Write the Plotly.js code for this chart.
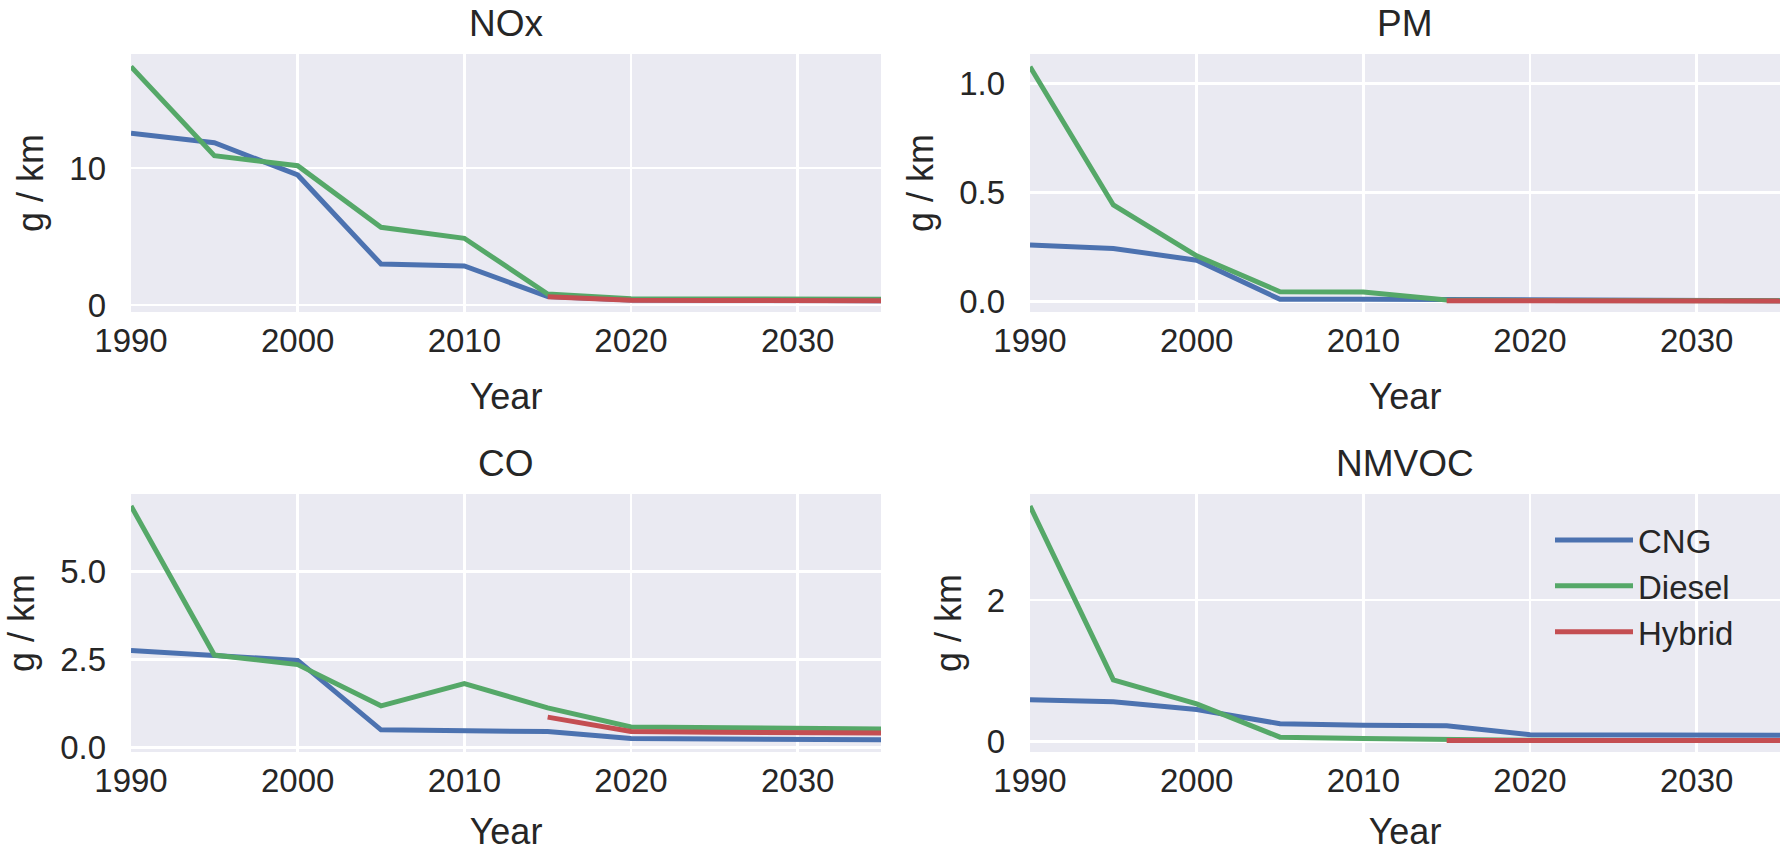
<!DOCTYPE html>
<html>
<head>
<meta charset="utf-8">
<script src="https://cdn.plot.ly/plotly-3.0.1.min.js"></script>
<style>html,body{margin:0;padding:0;background:#fff;}#chart{width:1785px;height:852px;}</style>
</head>
<body>
<div id="chart"></div>
<script>
// ---- data ----
const years = [1990, 1995, 2000, 2005, 2010, 2015, 2020, 2025, 2030, 2035];
const hybridYears = [2015, 2020, 2025, 2030, 2035];
const seriesNames = ["CNG", "Diesel", "Hybrid"];
const panelTitles = ["NOx", "PM", "CO", "NMVOC"];

const noxCNG    = [12.53, 11.85, 9.49, 2.99, 2.85, 0.62, 0.36, 0.34, 0.33, 0.32];
const noxDiesel = [17.4, 10.9, 10.17, 5.67, 4.87, 0.80, 0.45, 0.43, 0.42, 0.42];
const noxHybrid = [0.60, 0.35, 0.33, 0.32, 0.31];

const pmCNG    = [0.26, 0.244, 0.19, 0.011, 0.011, 0.010, 0.006, 0.006, 0.005, 0.005];
const pmDiesel = [1.076, 0.443, 0.21, 0.046, 0.044, 0.008, 0.006, 0.005, 0.005, 0.005];
const pmHybrid = [0.005, 0.004, 0.004, 0.003, 0.003];

const coCNG    = [2.76, 2.63, 2.48, 0.51, 0.49, 0.46, 0.26, 0.25, 0.24, 0.23];
const coDiesel = [6.86, 2.63, 2.36, 1.19, 1.82, 1.13, 0.59, 0.57, 0.55, 0.53];
const coHybrid = [0.87, 0.46, 0.44, 0.43, 0.42];

const nmvocCNG    = [0.59, 0.56, 0.45, 0.25, 0.23, 0.22, 0.095, 0.09, 0.088, 0.086];
const nmvocDiesel = [3.33, 0.87, 0.53, 0.06, 0.04, 0.02, 0.015, 0.014, 0.013, 0.013];
const nmvocHybrid = [0.014, 0.013, 0.012, 0.012, 0.012];

// ---- styling ----
const colors = ["#4C72B0", "#55A868", "#C44E52"];
const FONT = "Liberation Sans, Arial, sans-serif";
const TXT = "#262626";
const W = 1785, H = 852;

const panels = [
  {cng: noxCNG, diesel: noxDiesel, hybrid: noxHybrid, range: [-0.51, 18.32], dtick: 10, tickformat: "d"},
  {cng: pmCNG, diesel: pmDiesel, hybrid: pmHybrid, range: [-0.047, 1.134], dtick: 0.5, tickformat: ".1f"},
  {cng: coCNG, diesel: coDiesel, hybrid: coHybrid, range: [-0.12, 7.2], dtick: 2.5, tickformat: ".1f"},
  {cng: nmvocCNG, diesel: nmvocDiesel, hybrid: nmvocHybrid, range: [-0.15, 3.50], dtick: 2, tickformat: "d"}
];

// pixel boxes of the four plot areas
const boxes = [
  {l: 131, r: 881, t: 54, b: 312},
  {l: 1030, r: 1780, t: 54, b: 312},
  {l: 131, r: 881, t: 494, b: 752},
  {l: 1030, r: 1780, t: 494, b: 752}
];

const traces = [];
const layout = {
  width: W, height: H,
  margin: {l: 0, r: 0, t: 0, b: 0},
  paper_bgcolor: "#ffffff",
  plot_bgcolor: "#EAEAF2",
  font: {family: FONT, color: TXT, size: 33},
  showlegend: true,
  legend: {
    x: 1550 / W, xanchor: "left",
    y: 1 - 512 / H, yanchor: "top",
    bgcolor: "rgba(0,0,0,0)",
    borderwidth: 0,
    font: {family: FONT, size: 33, color: TXT},
    itemwidth: 78,
    tracegroupgap: 0
  },
  annotations: []
};

panels.forEach((p, i) => {
  const n = i + 1;
  const xa = "x" + (n === 1 ? "" : n);
  const ya = "y" + (n === 1 ? "" : n);
  const vals = [p.cng, p.diesel, p.hybrid];
  vals.forEach((v, k) => {
    traces.push({
      type: "scatter", mode: "lines",
      x: k === 2 ? hybridYears : years,
      y: v,
      name: seriesNames[k],
      legendgroup: seriesNames[k],
      showlegend: i === 3,
      line: {color: colors[k], width: 5},
      xaxis: xa, yaxis: ya,
      hoverinfo: "skip"
    });
  });
  const b = boxes[i];
  const axBase = {
    showgrid: true, gridcolor: "#ffffff", gridwidth: 2.6,
    zeroline: false, showline: false, ticks: "",
    tickfont: {family: FONT, size: 33, color: TXT},
    automargin: false
  };
  layout["xaxis" + (n === 1 ? "" : n)] = Object.assign({}, axBase, {
    domain: [b.l / W, b.r / W],
    anchor: ya,
    range: [1990, 2035],
    tick0: 1990, dtick: 10, tickformat: "d",
    ticklabelstandoff: 6,
    title: {text: "Year", font: {family: FONT, size: 36, color: TXT}, standoff: 25}
  });
  layout["yaxis" + (n === 1 ? "" : n)] = Object.assign({}, axBase, {
    domain: [1 - b.b / H, 1 - b.t / H],
    anchor: xa,
    range: p.range,
    tick0: 0, dtick: p.dtick, tickformat: p.tickformat,
    ticklabelstandoff: 24,
    title: {text: "g / km", font: {family: FONT, size: 36, color: TXT}, standoff: 14}
  });
  layout.annotations.push({
    text: panelTitles[i],
    xref: "paper", yref: "paper",
    x: (b.l + b.r) / 2 / W, y: 1 - b.t / H,
    xanchor: "center", yanchor: "middle",
    yshift: 31,
    showarrow: false,
    font: {family: FONT, size: 37, color: TXT}
  });
});

Plotly.newPlot("chart", traces, layout, {displayModeBar: false, staticPlot: true});
</script>
</body>
</html>
